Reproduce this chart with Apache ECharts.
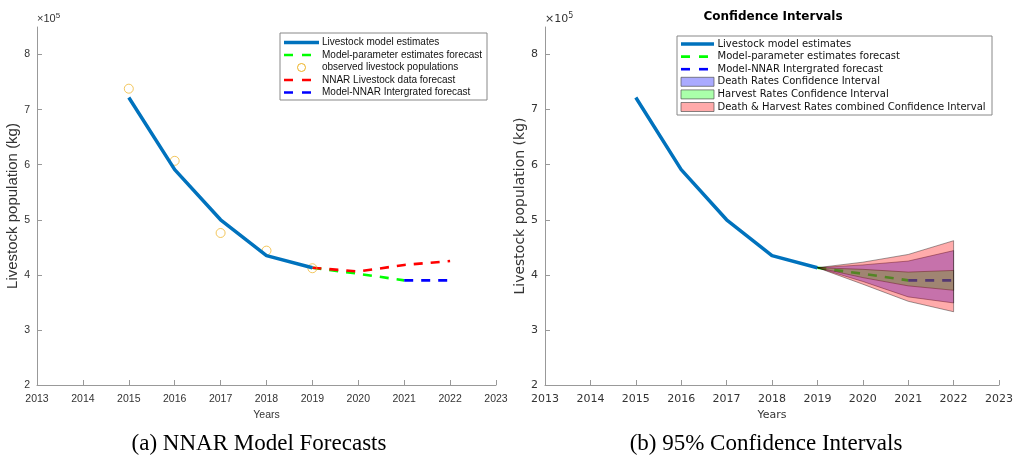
<!DOCTYPE html>
<html>
<head>
<meta charset="utf-8">
<script src="https://cdn.jsdelivr.net/npm/echarts@6/dist/echarts.min.js"></script>
<style>
html, body { margin: 0; padding: 0; background: #fff; }
#chart { width: 1016px; height: 460px; }
</style>
</head>
<body>
<div id="chart"></div>
<script>
// 数据 (kg)
var years = [2015, 2016, 2017, 2018, 2019];
var modelEstimates = [722000, 591000, 500000, 435000, 413000];
var observedPop = [738000, 607000, 476000, 444000, 412000];

var paramYears = [2019, 2020, 2021];
var paramForecast = [413000, 402000, 390000];
var nnarYears = [2019, 2020, 2021, 2022];
var nnarForecast = [413000, 406000, 418000, 425000];
var integYears = [2021, 2022];
var integForecast = [390000, 390000];

// 置信区间
var ciYears = [2019, 2020, 2021, 2022];
var combinedUpper = [413000, 423000, 437000, 462000];
var deathUpper = [413000, 418000, 425000, 444000];
var harvestUpper = [413000, 410000, 405000, 408000];
var harvestLower = [413000, 395000, 380000, 372000];
var deathLower = [413000, 388000, 360000, 349000];
var combinedLower = [413000, 383000, 352000, 333000];

var yTicks = [200000, 300000, 400000, 500000, 600000, 700000, 800000];

function pairs (xs, ys) {
  var out = [];
  for (var i = 0; i < xs.length; i++) out.push([xs[i], ys[i]]);
  return out;
}

var leftFont = 'Liberation Sans';
var rightFont = 'DejaVu Sans';

function makeX (idx, font, size) {
  return {
    type: 'value', gridIndex: idx, min: 2013, max: 2023, interval: 1,
    name: 'Years', nameLocation: 'middle', nameGap: 22,
    nameTextStyle: { fontFamily: font, fontSize: size, color: '#333' },
    axisLine: { show: true, lineStyle: { color: '#999', width: 1 } },
    axisTick: { show: true, inside: true, length: 5, lineStyle: { color: '#999' } },
    axisLabel: {
      fontFamily: font, fontSize: size, color: '#333', margin: 9,
      formatter: function (v) { return String(v); }
    },
    splitLine: { show: false }
  };
}

function makeY (idx, font, size, nameSize, gap) {
  return {
    type: 'value', gridIndex: idx, min: 200000, max: 850000,
    name: 'Livestock population (kg)', nameLocation: 'middle', nameGap: gap,
    nameTextStyle: { fontFamily: font, fontSize: nameSize, color: '#333' },
    axisLine: { show: true, lineStyle: { color: '#999', width: 1 } },
    axisTick: { show: true, inside: true, length: 5, customValues: yTicks, lineStyle: { color: '#999' } },
    axisLabel: {
      fontFamily: font, fontSize: size, color: '#333', margin: 7, customValues: yTicks,
      formatter: function (v) { return String(Math.round(v / 100000)); }
    },
    splitLine: { show: false }
  };
}

function dashLine (name, xi, xs, ys, color) {
  return {
    name: name, type: 'line', xAxisIndex: xi, yAxisIndex: xi, z: 2,
    data: pairs(xs, ys), symbol: 'none', silent: true,
    lineStyle: { color: color, width: 2.6, type: [9, 8] }
  };
}

// 置信区间的多边形, 画在线的上面
function band (lo, hi, fill) {
  return {
    type: 'custom', xAxisIndex: 1, yAxisIndex: 1, silent: true, z: 5,
    data: [[ciYears[0], lo[0]]],
    renderItem: function (params, api) {
      var pts = [];
      for (var i = 0; i < ciYears.length; i++) pts.push(api.coord([ciYears[i], hi[i]]));
      for (var j = ciYears.length - 1; j >= 0; j--) pts.push(api.coord([ciYears[j], lo[j]]));
      return {
        type: 'polygon', shape: { points: pts },
        style: { fill: fill, stroke: 'rgba(0,0,0,0.55)', lineWidth: 0.7 }
      };
    }
  };
}

// 图例 (手工画, 模仿 MATLAB)
function legend (box, x0, x1, tx, y0, dy, font, size, items) {
  var els = [{
    type: 'rect', shape: box, style: { fill: '#fff', stroke: '#888', lineWidth: 1 }, z: 100
  }];
  items.forEach(function (it, i) {
    var y = y0 + dy * i;
    if (it.kind === 'line') {
      els.push({
        type: 'line', shape: { x1: x0, y1: y, x2: x1, y2: y }, z: 101,
        style: { stroke: it.color, lineWidth: it.width, lineDash: it.dash || null }
      });
    } else if (it.kind === 'circle') {
      els.push({
        type: 'circle', shape: { cx: (x0 + x1) / 2, cy: y, r: 4 }, z: 101,
        style: { fill: '#fff', stroke: it.color, lineWidth: 1 }
      });
    } else {
      els.push({
        type: 'rect', shape: { x: x0, y: y - 4.5, width: x1 - x0, height: 9 }, z: 101,
        style: { fill: it.color, stroke: '#555', lineWidth: 0.7 }
      });
    }
    els.push({
      type: 'text', x: tx, y: y, z: 101,
      style: { text: it.label, fontFamily: font, fontSize: size, fill: '#111', verticalAlign: 'middle' }
    });
  });
  return els;
}

var leftLegend = legend({ x: 280, y: 33, width: 207, height: 67 }, 284, 319, 322, 42.5, 12.5, leftFont, 10, [
  { kind: 'line', color: '#0072BD', width: 3.5, label: 'Livestock model estimates' },
  { kind: 'line', color: '#00FF00', width: 2.6, dash: [9, 9], label: 'Model-parameter estimates forecast' },
  { kind: 'circle', color: '#EDB120', label: 'observed livestock populations' },
  { kind: 'line', color: '#FF0000', width: 2.6, dash: [9, 9], label: 'NNAR Livestock data forecast' },
  { kind: 'line', color: '#0000FF', width: 2.6, dash: [9, 9], label: 'Model-NNAR Intergrated forecast' }
]);

var rightLegend = legend({ x: 677, y: 36, width: 315, height: 79 }, 681, 714, 717.5, 44, 12.6, rightFont, 10, [
  { kind: 'line', color: '#0072BD', width: 3.5, label: 'Livestock model estimates' },
  { kind: 'line', color: '#00FF00', width: 2.6, dash: [9, 9], label: 'Model-parameter estimates forecast' },
  { kind: 'line', color: '#0000FF', width: 2.6, dash: [9, 9], label: 'Model-NNAR Intergrated forecast' },
  { kind: 'rect', color: '#aaaaff', label: 'Death Rates Confidence Interval' },
  { kind: 'rect', color: '#aaffaa', label: 'Harvest Rates Confidence Interval' },
  { kind: 'rect', color: '#ffaaaa', label: 'Death & Harvest Rates combined Confidence Interval' }
]);

function expLabel (x, font) {
  return {
    type: 'text', x: x, y: 19,
    style: {
      text: '{a|×10}{b|5}', fontFamily: font, fill: '#333', verticalAlign: 'middle',
      rich: {
        a: { fontFamily: font, fontSize: 11, fill: '#333' },
        b: { fontFamily: font, fontSize: 8, fill: '#333', verticalAlign: 'bottom', padding: [0, 0, 7, 0] }
      }
    }
  };
}

var option = {
  animation: false,
  backgroundColor: '#fff',
  grid: [
    { left: 37, top: 27, width: 459, height: 358 },
    { left: 545, top: 27, width: 455, height: 358 }
  ],
  xAxis: [makeX(0, leftFont, 10.5), makeX(1, rightFont, 11)],
  yAxis: [makeY(0, leftFont, 10.5, 15, 12), makeY(1, rightFont, 11, 14, 15)],
  series: [
    {
      name: 'Livestock model estimates', type: 'line', xAxisIndex: 0, yAxisIndex: 0,
      data: pairs(years, modelEstimates), symbol: 'none', silent: true,
      lineStyle: { color: '#0072BD', width: 3.5 }
    },
    dashLine('Model-parameter estimates forecast', 0, paramYears, paramForecast, '#00FF00'),
    {
      name: 'observed livestock populations', type: 'scatter', xAxisIndex: 0, yAxisIndex: 0,
      data: pairs(years, observedPop), symbol: 'circle', symbolSize: 9, silent: true,
      itemStyle: { color: 'rgba(255,255,255,0)', borderColor: '#EDB120', borderWidth: 0.9 }
    },
    dashLine('NNAR Livestock data forecast', 0, nnarYears, nnarForecast, '#FF0000'),
    dashLine('Model-NNAR Intergrated forecast', 0, integYears, integForecast, '#0000FF'),

    {
      name: 'Livestock model estimates', type: 'line', xAxisIndex: 1, yAxisIndex: 1,
      data: pairs(years, modelEstimates), symbol: 'none', silent: true,
      lineStyle: { color: '#0072BD', width: 3.5 }
    },
    dashLine('Model-parameter estimates forecast', 1, paramYears, paramForecast, '#00FF00'),
    dashLine('Model-NNAR Intergrated forecast', 1, integYears, integForecast, '#0000FF'),
    band(deathLower, deathUpper, 'rgba(0,0,255,0.33)'),
    band(harvestLower, harvestUpper, 'rgba(0,255,0,0.33)'),
    band(combinedLower, combinedUpper, 'rgba(255,0,0,0.33)')
  ],
  graphic: [
    expLabel(37, leftFont),
    expLabel(545, rightFont),
    {
      type: 'text', x: 773, y: 17,
      style: { text: 'Confidence Intervals', fontFamily: rightFont, fontSize: 12, fontWeight: 'bold', fill: '#000', align: 'center', verticalAlign: 'middle' }
    },
    {
      type: 'text', x: 259, y: 444,
      style: { text: '(a) NNAR Model Forecasts', fontFamily: 'Liberation Serif', fontSize: 23, fill: '#000', align: 'center', verticalAlign: 'middle' }
    },
    {
      type: 'text', x: 766, y: 444,
      style: { text: '(b) 95% Confidence Intervals', fontFamily: 'Liberation Serif', fontSize: 23, fill: '#000', align: 'center', verticalAlign: 'middle' }
    }
  ].concat(leftLegend, rightLegend)
};

var chart = echarts.init(document.getElementById('chart'));
chart.setOption(option);
</script>
</body>
</html>
